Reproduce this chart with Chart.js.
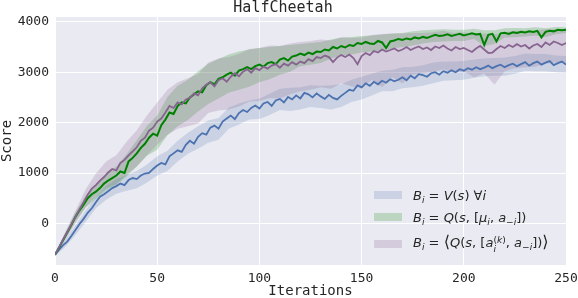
<!DOCTYPE html>
<html lang="en">
<head>
<meta charset="UTF-8">
<title>HalfCheetah</title>
<script src="https://cdn.jsdelivr.net/npm/chart.js@4.4.0/dist/chart.umd.min.js"></script>
<style>
  body { margin: 0; background: #fff; }
  #wrap { position: relative; width: 578px; height: 298px; }
  #legend { position: absolute; left: 374px; top: 184px; font-family: "DejaVu Sans", sans-serif; font-size: 13px; color: #262626; }
  .row { display: flex; align-items: center; height: 22px; white-space: nowrap; }
  .row.tall { height: 31px; }
  .patch { width: 28px; height: 8px; margin-right: 11px; }
  .m sub { font-size: 70%; vertical-align: -0.3em; line-height: 0; }
  .ss { display: inline-flex; flex-direction: column; font-size: 70%; line-height: 1; vertical-align: 0.45em; }
  .big { font-size: 125%; }
</style>
</head>
<body>
<div id="wrap">
  <canvas id="myChart" width="578" height="298"></canvas>
  <div id="legend"></div>
</div>
<script>
// line values, one per 2 iterations (0, 2, ... 250)
const blueMean = [
  -620, -520, -430, -360, -250, -130, -10, 90, 210, 300, 420, 530, 580, 640, 700, 740,
  790, 760, 860, 900, 880, 950, 990, 1000, 1080, 1150, 1200, 1170, 1330, 1390, 1450, 1420,
  1560, 1640, 1580, 1720, 1790, 1760, 1900, 1940, 1880, 2020, 2080, 2140, 2070, 2190, 2250, 2210,
  2290, 2340, 2280, 2380, 2410, 2330, 2440, 2470, 2400, 2510, 2460, 2540, 2480, 2590, 2560, 2500,
  2580, 2520, 2470, 2550, 2490, 2460, 2530, 2590, 2650, 2630, 2740, 2700, 2780, 2730, 2810, 2760,
  2830, 2790, 2860, 2820, 2850, 2900, 2840, 2930, 2880, 2960, 2940, 2910, 2980, 3000, 2950, 3020,
  2990, 3040, 3000, 3060, 3030, 3080, 3050, 3100, 3060, 3090, 3130, 3080, 3120, 3150, 3100, 3140,
  3170, 3120, 3160, 3200, 3130, 3180, 3210, 3150, 3190, 3220, 3140, 3180, 3210, 3150
];
const greenMean = [
  -620, -480, -330, -180, -30, 130, 260, 370, 500, 580, 630, 700, 790, 850, 900, 950,
  1030, 1000, 1230, 1300, 1390, 1500, 1580, 1700, 1780, 1740, 1950, 2060, 2200, 2170, 2330, 2400,
  2380, 2500, 2560, 2620, 2600, 2740, 2800, 2760, 2870, 2900, 2950, 2990, 2930, 3030, 3060, 3100,
  3060, 3120, 3150, 3110, 3180, 3200, 3160, 3250, 3280, 3230, 3310, 3330, 3370, 3340, 3390, 3360,
  3410, 3400, 3450, 3430, 3500, 3470, 3520, 3490, 3540, 3520, 3580, 3560, 3600, 3570, 3560, 3620,
  3590, 3480, 3610, 3630, 3660, 3640, 3670, 3650, 3690, 3670, 3700, 3680, 3710, 3740, 3720, 3730,
  3750, 3720, 3740, 3760, 3730, 3750, 3770, 3750, 3760, 3540, 3740, 3760, 3610, 3770, 3780, 3760,
  3790, 3780, 3800, 3790, 3810, 3800, 3820, 3690, 3800, 3820, 3810, 3840, 3830, 3840
];
const purpleMean = [
  -620, -470, -320, -170, -20, 130, 280, 420, 570, 690, 760, 850, 920, 1010, 1080, 1050,
  1200, 1260, 1350, 1430, 1510, 1640, 1700, 1840, 1900, 2020, 2080, 2200, 2330, 2290, 2400, 2360,
  2460, 2490, 2580, 2540, 2680, 2750, 2800, 2720, 2840, 2880, 2810, 2910, 2980, 2920, 3010, 3060,
  2990, 3080, 3040, 3110, 3070, 3130, 3160, 3090, 3170, 3130, 3200, 3150, 3210, 3180, 3260, 3220,
  3300, 3280, 3330, 3300, 3200, 3290, 3340, 3300, 3350, 3280, 3160, 3320, 3380, 3340, 3420, 3390,
  3450, 3410, 3440, 3470, 3420, 3450, 3500, 3440, 3480, 3510, 3460, 3490, 3440, 3510, 3480, 3530,
  3470, 3430, 3500, 3460, 3480, 3440, 3400, 3470, 3520, 3450, 3380, 3390, 3460, 3520, 3480, 3540,
  3500, 3560, 3510, 3540, 3470, 3530, 3560, 3500, 3590, 3540, 3610, 3580, 3540, 3580
];

// shaded bands, one per 5 iterations (0, 5, ... 250)
const blueLow = [
  -650, -470, -230, 30, 300, 470, 590, 650, 700, 810, 950, 1040, 1230, 1380, 1480, 1600, 1660,
  1880, 1960, 2060, 2070, 2150, 2250, 2230, 2260, 2310, 2290, 2260, 2310, 2410, 2460, 2540, 2620,
  2620, 2680, 2700, 2730, 2780, 2830, 2840, 2850, 2890, 2920, 2930, 2930, 2970, 3030, 3020, 3020, 3000, 2990
];
const blueHigh = [
  -590, -330, -40, 260, 530, 740, 880, 960, 1040, 1170, 1330, 1440, 1640, 1800, 1930, 2040, 2090,
  2300, 2380, 2440, 2480, 2570, 2670, 2690, 2700, 2740, 2730, 2740, 2760, 2850, 2910, 2970, 3030,
  3050, 3100, 3110, 3140, 3190, 3210, 3210, 3220, 3250, 3270, 3280, 3290, 3320, 3370, 3360, 3360, 3330, 3320
];
const greenLow = [
  -640, -310, 40, 310, 490, 660, 770, 930, 1130, 1340, 1460, 1750, 1930, 2050, 2220, 2370, 2480,
  2590, 2650, 2710, 2800, 2860, 2950, 3010, 3120, 3150, 3180, 3270, 3330, 3350, 3390, 3410, 3430,
  3470, 3500, 3530, 3570, 3600, 3610, 3620, 3620, 3660, 3520, 3560, 3690, 3695, 3710, 3730, 3700, 3755, 3780
];
const greenHigh = [
  -600, -190, 220, 550, 770, 980, 1130, 1370, 1650, 1940, 2140, 2510, 2730, 2850, 3020, 3170, 3260,
  3350, 3410, 3450, 3480, 3500, 3520, 3540, 3560, 3580, 3600, 3650, 3690, 3700, 3720, 3730, 3750,
  3770, 3780, 3810, 3830, 3840, 3850, 3840, 3840, 3860, 3830, 3830, 3870, 3875, 3870, 3890, 3870, 3895, 3890
];
const purpleLow = [
  -640, -330, 0, 320, 540, 710, 770, 970, 1130, 1350, 1560, 1760, 1880, 1930, 1980, 2190, 2240,
  2260, 2320, 2420, 2430, 2490, 2480, 2560, 2620, 2650, 2700, 2670, 2780, 2720, 2680, 2850, 2700,
  2900, 2780, 2950, 2980, 3010, 3060, 2990, 3020, 2900, 2980, 2750, 3020, 3080, 3100, 3110, 3170, 3190, 3180
];
const purpleHigh = [
  -600, -170, 250, 680, 990, 1230, 1350, 1620, 1850, 2140, 2400, 2650, 2800, 2880, 2960, 3190, 3270,
  3300, 3360, 3460, 3480, 3530, 3520, 3570, 3600, 3620, 3650, 3630, 3690, 3680, 3690, 3740, 3760,
  3770, 3770, 3780, 3780, 3790, 3820, 3780, 3790, 3760, 3770, 3750, 3790, 3820, 3820, 3820, 3850, 3850, 3830
];

const xTicks = [0, 50, 100, 150, 200, 250];
const yTicks = [0, 1000, 2000, 3000, 4000];

const seriesNames = [
  '<i>B</i><sub><i>i</i></sub> = <i>V</i>(<i>s</i>) ∀<i>i</i>',
  '<i>B</i><sub><i>i</i></sub> = <i>Q</i>(<i>s</i>, [<i>μ</i><sub><i>i</i></sub>, <i>a</i><sub>−<i>i</i></sub>])',
  '<i>B</i><sub><i>i</i></sub> = <span class="big">⟨</span><i>Q</i>(<i>s</i>, [<i>a</i><span class="ss"><span>(<i>k</i>)</span><span><i>i</i></span></span>, <i>a</i><sub>−<i>i</i></sub>])<span class="big">⟩</span>'
];
const lineColors = ['#4C72B0', '#008000', '#87648F'];
const bandColors = ['rgba(76,114,176,0.2)', 'rgba(0,128,0,0.2)', 'rgba(135,100,143,0.22)'];

const pts = (vals, step) => vals.map((v, i) => ({x: i * step, y: v}));

const means = [blueMean, greenMean, purpleMean];
const lows = [blueLow, greenLow, purpleLow];
const highs = [blueHigh, greenHigh, purpleHigh];

let datasets = [];
// lines first (drawn on top), purple over green over blue
[2, 1, 0].forEach(function (k, n) {
  datasets.push({
    data: pts(means[k], 2), borderColor: lineColors[k], borderWidth: k === 1 ? 2 : 1.8,
    pointRadius: 0, fill: false, order: n
  });
});
[2, 1, 0].forEach(function (k, n) {
  datasets.push({
    data: pts(highs[k], 5), borderWidth: 0, pointRadius: 0,
    backgroundColor: bandColors[k], fill: '+1', order: 10 + n
  });
  datasets.push({
    data: pts(lows[k], 5), borderWidth: 0, pointRadius: 0, fill: false, order: 10 + n
  });
});

const plotBg = {
  id: 'plotBg',
  beforeDraw(chart) {
    const {ctx, chartArea: a} = chart;
    ctx.save();
    ctx.fillStyle = '#EAEAF2';
    ctx.fillRect(a.left, a.top, a.width, a.height);
    ctx.restore();
  }
};

const mono = 'DejaVu Sans Mono';
const ink = '#262626';

new Chart(document.getElementById('myChart').getContext('2d'), {
  type: 'line',
  data: {datasets: datasets},
  options: {
    responsive: false,
    animation: false,
    devicePixelRatio: 1,
    layout: {padding: {top: 0, right: 12, bottom: 0, left: 0}},
    plugins: {
      legend: {display: false},
      tooltip: {enabled: false},
      title: {
        display: true, text: 'HalfCheetah', color: ink,
        font: {family: mono, size: 15, weight: 'normal', lineHeight: 1},
        padding: {top: 1, bottom: 1}
      }
    },
    scales: {
      x: {
        type: 'linear', min: 0, max: 250,
        afterBuildTicks: s => { s.ticks = xTicks.map(v => ({value: v})); },
        afterFit: s => { s.height = 33; s.paddingRight = 0; s.paddingLeft = 0; },
        ticks: {color: ink, font: {family: mono, size: 13}, padding: 6, maxRotation: 0, callback: v => String(v)},
        grid: {color: '#ffffff', lineWidth: 1, drawTicks: false},
        border: {display: false},
        title: {display: true, text: 'Iterations', color: ink, font: {family: mono, size: 14, lineHeight: 1}, padding: 0}
      },
      y: {
        min: -825, max: 4095,
        afterBuildTicks: s => { s.ticks = yTicks.map(v => ({value: v})); },
        afterFit: s => { s.width = 55; },
        ticks: {color: ink, font: {family: mono, size: 13}, padding: 6, callback: v => String(v)},
        grid: {color: '#ffffff', lineWidth: 1, drawTicks: false},
        border: {display: false},
        title: {display: true, text: 'Score', color: ink, font: {family: mono, size: 14, lineHeight: 1}, padding: 0}
      }
    }
  },
  plugins: [plotBg]
});

// legend, built from the same names and band colours
document.getElementById('legend').innerHTML = seriesNames.map(function (name, k) {
  return '<div class="row' + (k === 2 ? ' tall' : '') + '"><div class="patch" style="background:' +
    bandColors[k] + '"></div><span class="m">' + name + '</span></div>';
}).join('');
</script>
</body>
</html>
